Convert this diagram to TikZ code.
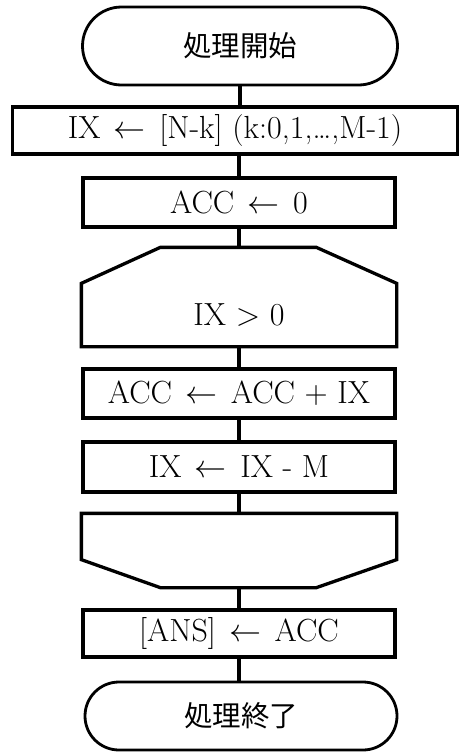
\documentclass[tikz,border=0pt]{standalone}
\usepackage{fix-cm}
\usepackage{fontspec}
\newfontfamily\jpfont{Noto Sans CJK JP}
\usetikzlibrary{shapes.misc}

\newcommand\setto{\hspace{.42em}$\leftarrow$\hspace{.42em}}

\tikzset{
  flow/.style={line width=3.3pt},
  procbox/.style={draw, flow, rectangle, minimum width=312pt, minimum height=49pt,
    inner sep=0pt, font=\fontsize{32}{38}\selectfont},
  termbox/.style={draw, line width=2.8pt, rounded rectangle, minimum width=315pt,
    inner sep=0pt, font=\jpfont\fontsize{28.5}{33}\selectfont},
}

\begin{document}
\begin{tikzpicture}[x=1pt,y=1pt]
\useasboundingbox (0,0) rectangle (461,-753);
\node[termbox, minimum height=78pt] (start) at (240,-46) {処理開始};
\node[procbox, minimum width=445pt, minimum height=47pt] (init) at (235,-130.5)
    {IX\setto[N-k] (k:0,1,\ldots,M-1)};
\node[procbox] (clear) at (239,-202.5) {ACC\setto0};
% loop head
\node[procbox, draw=none, minimum height=60pt] (loopbeg) at (239,-315) {IX > 0};
\draw[flow] (loopbeg.south west) -- (loopbeg.north west) -- ++(79,36) -- ++(156,0)
    -- (loopbeg.north east) -- (loopbeg.south east) -- cycle;
\coordinate (loopbegtop) at (239,-249);
\node[procbox] (add) at (239,-393.5) {ACC\setto ACC + IX};
\node[procbox, minimum height=50pt] (dec) at (239,-467) {IX\setto IX - M};
% loop tail
\node[procbox, draw=none, minimum height=43pt] (loopend) at (239,-536.5) {};
\draw[flow] (loopend.north west) -- (loopend.south west) -- ++(79,-28) -- ++(156,0)
    -- (loopend.south east) -- (loopend.north east) -- cycle;
\coordinate (loopendbot) at (239,-586);
\node[procbox, minimum height=47pt] (ans) at (239,-633.5) {[ANS]\setto ACC};
\node[termbox, minimum width=312pt, minimum height=68pt] (stop) at (241,-716) {処理終了};

\draw[flow] (start.south) -- (start.south |- init.north);
\draw[flow] (clear.north) -- (clear.north |- init.south);
\draw[flow] (clear) -- (loopbegtop);
\draw[flow] (loopbeg) -- (add);
\draw[flow] (add) -- (dec);
\draw[flow] (dec) -- (loopend);
\draw[flow] (loopendbot) -- (ans);
\draw[flow] (ans.south) -- (ans.south |- stop.north);
\end{tikzpicture}
\end{document}
